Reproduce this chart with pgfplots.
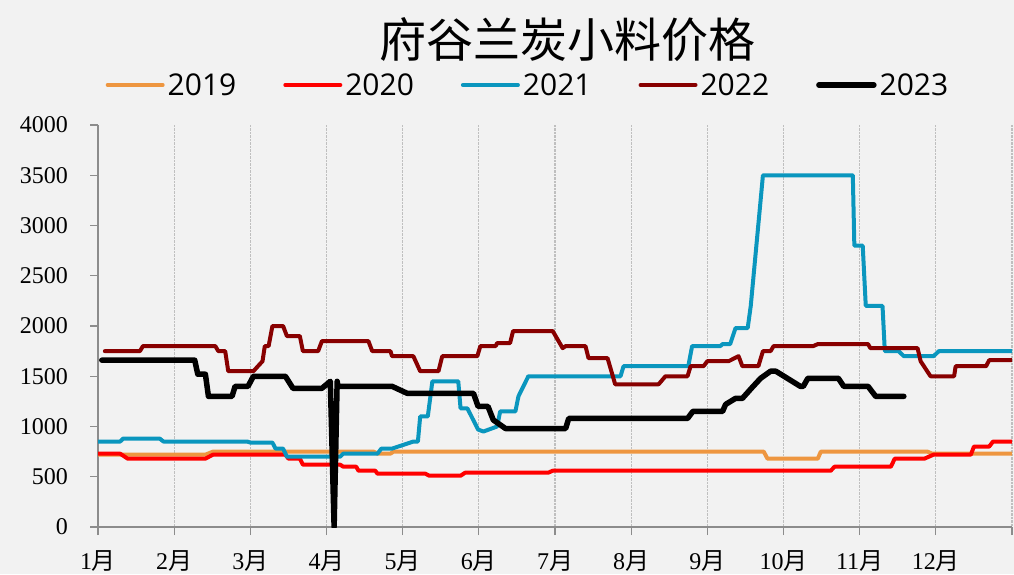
\documentclass[border=0pt]{standalone}
\usepackage{pgfplots}
\pgfplotsset{compat=1.18}
\usepackage{fontspec}
\setmainfont{Liberation Serif}
\newfontfamily\cjk{Noto Sans CJK SC}
\newfontfamily\legfont{Open Sans}
\definecolor{bg}{HTML}{F2F2F2}
\definecolor{c2019}{HTML}{EE9640}
\definecolor{c2020}{HTML}{FF0000}
\definecolor{c2021}{HTML}{0A96BE}
\definecolor{c2022}{HTML}{880000}
\definecolor{axgray}{HTML}{8C8C8C}
\begin{document}
\begin{tikzpicture}
\fill[bg] (0pt,0pt) rectangle (1014pt,574pt);
\begin{axis}[
  at={(98pt,47pt)}, anchor=south west,
  scale only axis, width=914pt, height=402pt,
  xmin=1, xmax=13, ymin=0, ymax=4000,
  axis x line=bottom, axis y line=left,
  axis line style={-, draw=axgray, line width=1.2pt},
  tick align=outside, major tick length=8pt,
  tick style={draw=axgray, line width=1.2pt},
  xtick={1,2,3,4,5,6,7,8,9,10,11,12,13},
  xticklabels={1{\cjk 月},2{\cjk 月},3{\cjk 月},4{\cjk 月},5{\cjk 月},6{\cjk 月},7{\cjk 月},8{\cjk 月},9{\cjk 月},10{\cjk 月},11{\cjk 月},12{\cjk 月},},
  ytick={0,500,1000,1500,2000,2500,3000,3500,4000},
  /pgf/number format/assume math mode=true,
  /pgf/number format/1000 sep={},
  tick label style={font=\fontsize{24}{24}\selectfont},
  yticklabel style={anchor=east, inner sep=0pt, xshift=-22pt},
  xticklabel style={anchor=north, inner sep=0pt, yshift=-15pt},
  xmajorgrids, grid style={densely dotted, draw=gray!50, line width=1.3pt},
  title={\cjk\fontsize{47}{47}\selectfont 府谷兰炭小料价格},
  title style={at={(0.514,1.1965)}, anchor=center, inner sep=0pt},
  legend style={at={(0.471,1.0995)}, anchor=center, draw=none, fill=none,
    font=\legfont\fontsize{30}{30}\selectfont, inner sep=0pt,
    nodes={inner sep=3pt},
    /tikz/every even column/.append style={column sep=44pt}},
  legend columns=5,
  legend image code/.code={\draw[#1] (0pt,0pt) -- (55pt,0pt);},
  every axis plot/.append style={line join=round, line cap=round},
]
\addplot[c2019, line width=4pt] coordinates {
(1.00,720)(2.41,720)(2.51,750)(4.62,750)(4.67,730)(4.84,730)(4.88,750)(9.74,750)(9.79,680)(10.45,680)(10.49,750)(11.89,750)(11.95,730)(13.0,730)};
\addlegendentry{2019}
\addplot[c2020, line width=4pt] coordinates {
(1.00,730)(1.29,730)(1.39,680)(2.41,680)(2.51,720)(3.46,720)(3.50,680)(3.65,680)(3.69,620)(4.18,620)(4.22,600)(4.39,600)(4.42,560)(4.64,560)(4.67,530)(5.30,530)(5.35,510)(5.76,510)(5.82,540)(6.91,540)(6.97,560)(10.62,560)(10.67,600)(11.41,600)(11.46,680)(11.85,680)(11.97,720)(12.46,720)(12.50,800)(12.70,800)(12.75,850)(13.0,850)};
\addlegendentry{2020}
\addplot[c2021, line width=4pt] coordinates {
(1.00,850)(1.29,850)(1.33,880)(1.81,880)(1.86,850)(2.96,850)(3.00,840)(3.29,840)(3.33,780)(3.43,780)(3.48,700)(4.18,700)(4.22,730)(4.67,730)(4.72,780)(4.86,780)(5.14,850)(5.20,850)(5.23,1100)(5.33,1100)(5.39,1450)(5.73,1450)(5.76,1180)(5.85,1180)(5.99,970)(6.06,950)(6.24,1000)(6.28,1150)(6.48,1150)(6.52,1300)(6.65,1500)(7.86,1500)(7.90,1600)(8.75,1600)(8.80,1800)(9.17,1800)(9.20,1820)(9.30,1820)(9.37,1980)(9.53,1980)(9.57,2200)(9.73,3500)(10.91,3500)(10.93,2800)(11.04,2800)(11.08,2200)(11.30,2200)(11.33,1750)(11.51,1750)(11.58,1700)(11.97,1700)(12.04,1750)(13.0,1750)};
\addlegendentry{2021}
\addplot[c2022, line width=4pt] coordinates {
(1.09,1750)(1.55,1750)(1.59,1800)(2.54,1800)(2.58,1750)(2.67,1750)(2.71,1550)(3.04,1550)(3.10,1600)(3.16,1650)(3.19,1800)(3.24,1800)(3.29,2000)(3.43,2000)(3.48,1900)(3.65,1900)(3.69,1750)(3.89,1750)(3.94,1850)(4.55,1850)(4.60,1750)(4.84,1750)(4.86,1700)(5.14,1700)(5.23,1550)(5.47,1550)(5.52,1700)(5.98,1700)(6.02,1800)(6.22,1800)(6.24,1830)(6.41,1830)(6.45,1950)(6.97,1950)(7.10,1780)(7.14,1800)(7.40,1800)(7.44,1680)(7.69,1680)(7.79,1420)(8.36,1420)(8.45,1500)(8.74,1500)(8.78,1600)(8.95,1600)(9.00,1650)(9.28,1650)(9.41,1700)(9.46,1600)(9.67,1600)(9.73,1750)(9.83,1750)(9.87,1800)(10.39,1800)(10.45,1820)(11.11,1820)(11.14,1780)(11.76,1780)(11.80,1650)(11.93,1500)(12.24,1500)(12.26,1600)(12.66,1600)(12.70,1660)(13.0,1660)};
\addlegendentry{2022}
\addplot[black, line width=5.5pt] coordinates {
(1.05,1660)(2.27,1660)(2.31,1520)(2.41,1520)(2.45,1300)(2.76,1300)(2.80,1400)(2.97,1400)(3.04,1500)(3.46,1500)(3.56,1380)(3.94,1380)(4.05,1450)(4.10,0)(4.14,1450)(4.15,1400)(4.86,1400)(5.06,1330)(5.93,1330)(5.99,1200)(6.12,1200)(6.19,1065)(6.35,980)(7.14,980)(7.18,1080)(8.74,1080)(8.81,1150)(9.20,1150)(9.24,1220)(9.37,1280)(9.46,1280)(9.59,1390)(9.70,1480)(9.83,1550)(9.90,1550)(10.22,1400)(10.26,1400)(10.32,1480)(10.72,1480)(10.79,1400)(11.11,1400)(11.21,1300)(11.58,1300)};
\addlegendentry{2023}
\end{axis}
\pgfresetboundingbox
\useasboundingbox (0pt,0pt) rectangle (1014pt,574pt);
\end{tikzpicture}
\end{document}
